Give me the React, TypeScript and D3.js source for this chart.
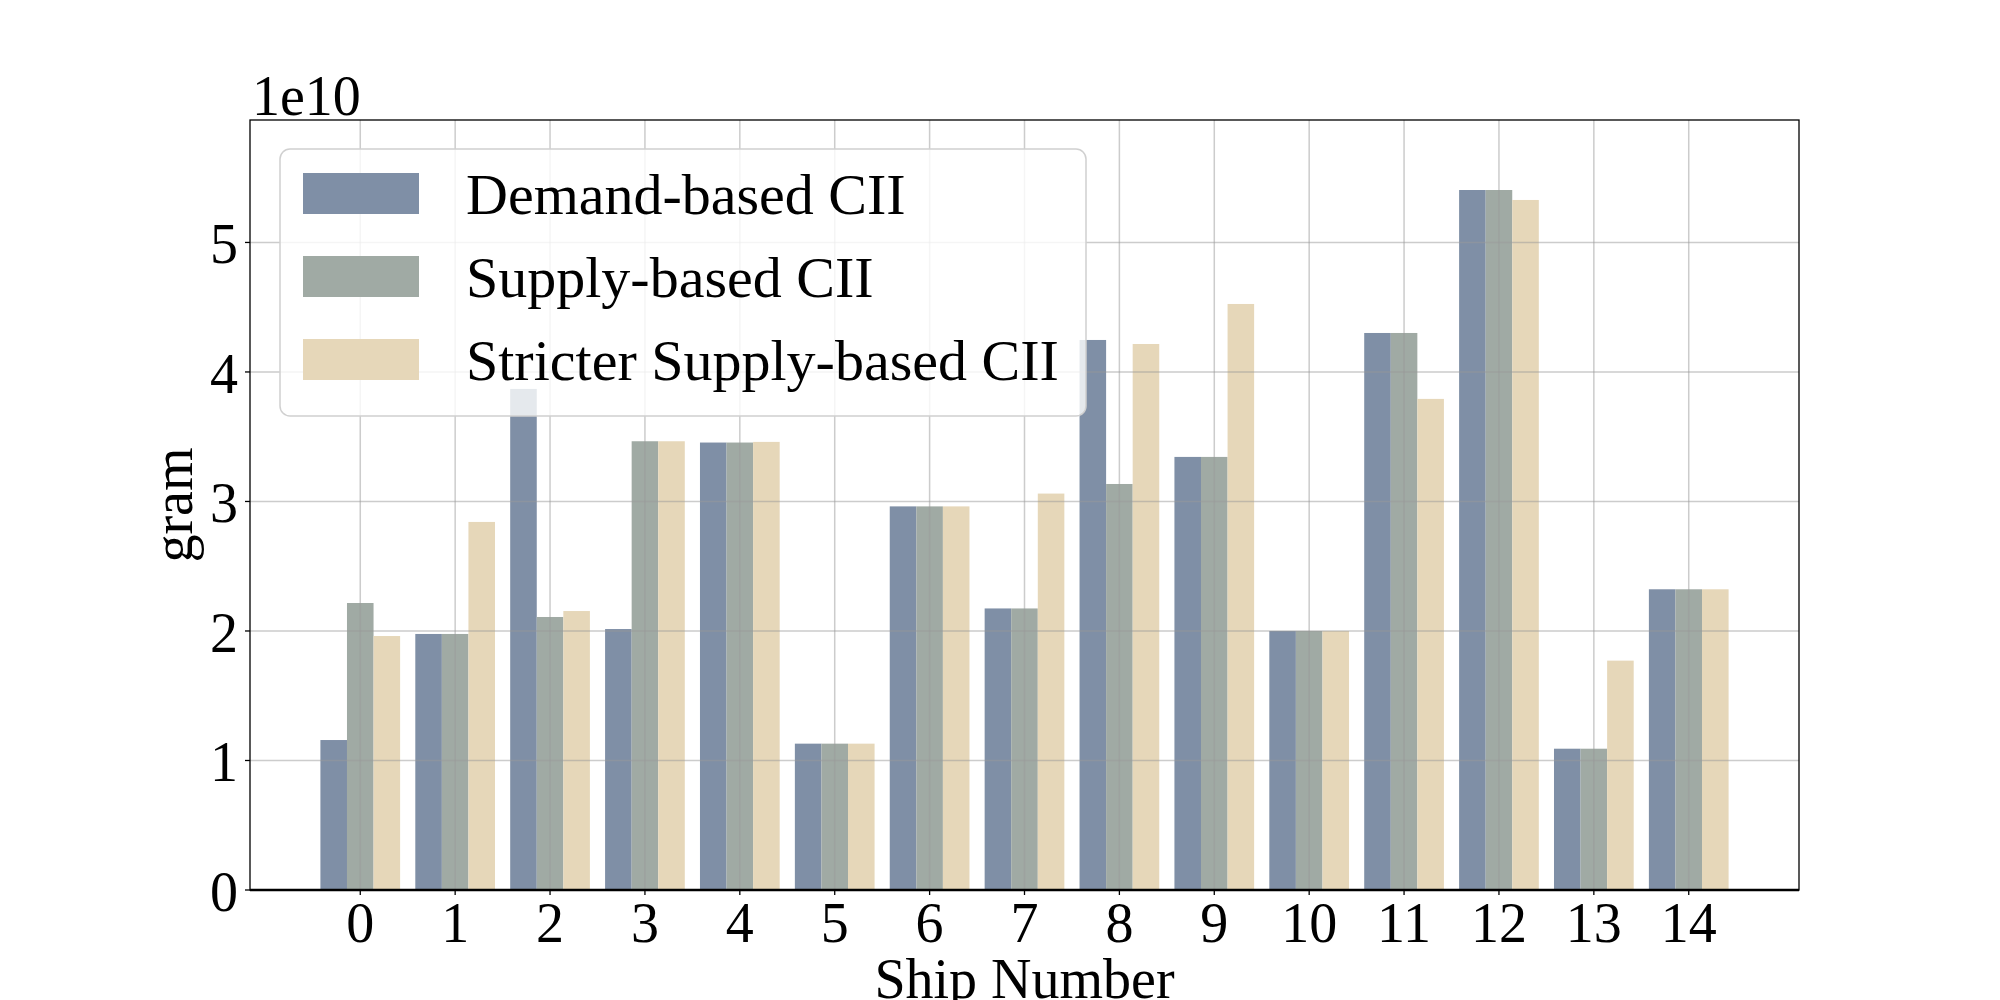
import * as d3 from "d3";

const ships = [0, 1, 2, 3, 4, 5, 6, 7, 8, 9, 10, 11, 12, 13, 14];
const demand = [1.158, 1.977, 3.869, 2.015, 3.455, 1.13, 2.962, 2.174, 4.247, 3.344, 2.0, 4.301, 5.405, 1.091, 2.322];
const supply = [2.216, 1.977, 2.108, 3.465, 3.455, 1.13, 2.962, 2.174, 3.135, 3.344, 2.0, 4.301, 5.405, 1.091, 2.322];
const stricter = [1.961, 2.842, 2.154, 3.465, 3.46, 1.13, 2.962, 3.061, 4.216, 4.525, 2.0, 3.792, 5.328, 1.771, 2.322];
const seriesNames = ["Demand-based CII", "Supply-based CII", "Stricter Supply-based CII"];
const seriesColors = ["#7F8FA6", "#A0AAA4", "#E6D7B9"];
const yTicks = [0, 1, 2, 3, 4, 5];

const W = 2000;
const H = 1000;
const m = { left: 250, right: 1799, top: 120, bottom: 890 };
const barW = 0.28;
const font = "'Liberation Serif', 'Times New Roman', serif";

export default function App() {
  const series = [demand, supply, stricter];

  // matplotlib-like 5% margins around the bar extents
  const lo = -1.5 * barW;
  const hi = ships.length - 1 + 1.5 * barW;
  const pad = (hi - lo) * 0.05;
  const x = d3.scaleLinear().domain([lo - pad, hi + pad]).range([m.left, m.right]);
  const yMax = d3.max(series.flat()) ?? 1;
  const y = d3.scaleLinear().domain([0, yMax * 1.1]).range([m.bottom, m.top]);

  const legendX = 280;
  const legendY = 149;
  const rowH = 83;

  return (
    <div style={{ position: "absolute", left: 0, top: 0 }}>
      <svg width={W} height={H} style={{ display: "block", background: "#fff" }} fontFamily={font}>
        {/* bars */}
        {series.map((vals, si) =>
          vals.map((v, i) => (
            <rect
              key={`${si}-${i}`}
              x={x(ships[i] + (si - 1.5) * barW)}
              y={y(v)}
              width={x(barW) - x(0)}
              height={y(0) - y(v)}
              fill={seriesColors[si]}
            />
          ))
        )}

        {/* grid on top */}
        <g stroke="#999" strokeOpacity={0.5} strokeWidth={1.5}>
          {ships.map((s) => (
            <line key={`gx${s}`} x1={x(s)} x2={x(s)} y1={m.top} y2={m.bottom} />
          ))}
          {yTicks.map((t) => (
            <line key={`gy${t}`} x1={m.left} x2={m.right} y1={y(t)} y2={y(t)} />
          ))}
        </g>

        {/* legend */}
        <rect
          x={legendX}
          y={legendY}
          width={1086 - legendX}
          height={416 - legendY}
          rx={10}
          fill="#fff"
          fillOpacity={0.8}
          stroke="#d0d0d0"
          strokeWidth={1.5}
        />
        {seriesNames.map((name, i) => {
          const cy = 193.5 + i * rowH;
          return (
            <g key={name}>
              <rect x={303} y={cy - 20.5} width={116} height={41} fill={seriesColors[i]} />
              <text x={466} y={cy + 20.5} fontSize={58} fill="#000">
                {name}
              </text>
            </g>
          );
        })}

        {/* spines */}
        <rect x={m.left} y={m.top} width={m.right - m.left} height={m.bottom - m.top} fill="none" stroke="#000" strokeWidth={1.3} />
        <line x1={m.left} x2={m.right} y1={m.bottom} y2={m.bottom} stroke="#000" strokeWidth={2.5} />

        {/* y axis */}
        {yTicks.map((t) => (
          <g key={`yt${t}`}>
            <line x1={m.left - 5} x2={m.left} y1={y(t)} y2={y(t)} stroke="#000" strokeWidth={1.3} />
            <text x={m.left - 12} y={y(t) + 21} fontSize={56} textAnchor="end">
              {t}
            </text>
          </g>
        ))}
        <text x={252} y={115} fontSize={56}>1e10</text>
        <text transform={`translate(192,${(m.top + m.bottom) / 2}) rotate(-90)`} fontSize={56} textAnchor="middle">
          gram
        </text>

        {/* x axis */}
        {ships.map((s) => (
          <g key={`xt${s}`}>
            <line x1={x(s)} x2={x(s)} y1={m.bottom} y2={m.bottom + 5} stroke="#000" strokeWidth={1.3} />
            <text x={x(s)} y={942} fontSize={56} textAnchor="middle">
              {s}
            </text>
          </g>
        ))}
        {/* the reference crops this label at the bottom edge */}
        <text x={(m.left + m.right) / 2} y={998} fontSize={56} textAnchor="middle">
          Ship Number
        </text>
      </svg>
    </div>
  );
}
